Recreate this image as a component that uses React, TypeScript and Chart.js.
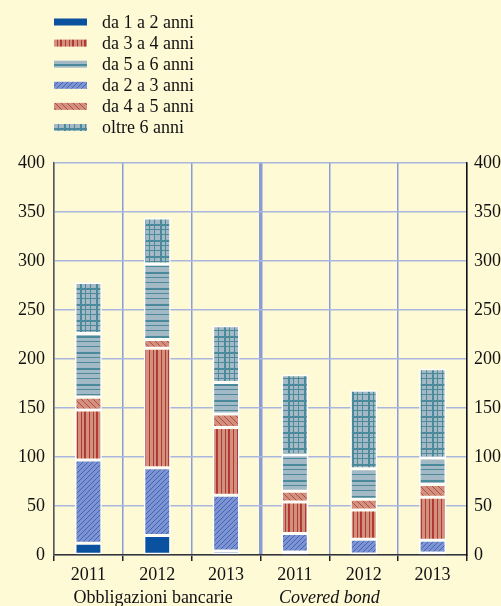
import { useEffect, useRef } from "react";
import { Chart, registerables } from "chart.js";
Chart.register(...registerables);

const categories = ["2011", "2012", "2013", "2011", "2012", "2013"];
const groupLabels = ["Obbligazioni bancarie", "Covered bond"];
const yMin = 0;
const yMax = 400;
const yStep = 50;

// stacked from bottom to top
const da1a2 = [12, 20, 4, 3, 1, 2];
const da2a3 = [85, 69, 57, 19, 15, 13];
const da3a4 = [51, 122, 69, 32, 30, 44];
const da4a5 = [13, 9, 14, 11, 11, 13];
const da5a6 = [65, 77, 32, 37, 31, 27];
const oltre6 = [52, 47, 58, 82, 80, 91];

const seriesNames = ["da 1 a 2 anni", "da 2 a 3 anni", "da 3 a 4 anni", "da 4 a 5 anni", "da 5 a 6 anni", "oltre 6 anni"];
const legendOrder = [0, 2, 4, 1, 3, 5];

const FONT = '"Liberation Serif", "Times New Roman", serif';
const FS = 18;
const BG = "#fffad6";

function makeTile(w: number, h: number, draw: (c: CanvasRenderingContext2D) => void) {
  const cv = document.createElement("canvas");
  cv.width = w;
  cv.height = h;
  const c = cv.getContext("2d")!;
  draw(c);
  return cv;
}

function makePatterns(ctx: CanvasRenderingContext2D) {
  const solid = "#0a52a0";
  const blueDiag = makeTile(5, 5, (c) => {
    c.fillStyle = "#7f93d2";
    c.fillRect(0, 0, 5, 5);
    c.fillStyle = "#3a68b6";
    for (let i = 0; i < 5; i++) c.fillRect(i, 4 - i, 1, 1);
  });
  const redVert = makeTile(12, 4, (c) => {
    c.fillStyle = "#d2907f";
    c.fillRect(0, 0, 12, 4);
    c.fillStyle = "#b23a32";
    c.fillRect(0, 0, 2, 4);
    c.fillRect(5, 0, 1, 4);
    c.fillRect(9, 0, 1, 4);
  });
  const redDiag = makeTile(6, 6, (c) => {
    c.fillStyle = "#d2907f";
    c.fillRect(0, 0, 6, 6);
    c.fillStyle = "#b44a40";
    for (let i = 0; i < 6; i++) c.fillRect(i, i, 1, 1);
  });
  const tealHoriz = makeTile(4, 16, (c) => {
    c.fillStyle = "#a3bac6";
    c.fillRect(0, 0, 4, 16);
    c.fillStyle = "#4a8a9a";
    c.fillRect(0, 0, 4, 2);
    c.fillRect(0, 5, 4, 1);
    c.fillRect(0, 10, 4, 1);
  });
  const tealGrid = makeTile(16, 16, (c) => {
    c.fillStyle = "#a3bac6";
    c.fillRect(0, 0, 16, 16);
    c.fillStyle = "#4a8a9a";
    c.fillRect(0, 0, 16, 2);
    c.fillRect(0, 5, 16, 1);
    c.fillRect(0, 10, 16, 1);
    c.fillRect(0, 0, 2, 16);
    c.fillRect(5, 0, 1, 16);
    c.fillRect(10, 0, 1, 16);
  });
  return [
    solid,
    ctx.createPattern(blueDiag, "repeat")!,
    ctx.createPattern(redVert, "repeat")!,
    ctx.createPattern(redDiag, "repeat")!,
    ctx.createPattern(tealHoriz, "repeat")!,
    ctx.createPattern(tealGrid, "repeat")!,
  ];
}

export default function App() {
  const ref = useRef<HTMLCanvasElement | null>(null);

  useEffect(() => {
    document.body.style.margin = "0";
    document.body.style.background = BG;
    const canvas = ref.current!;
    const ctx = canvas.getContext("2d")!;
    const fills = makePatterns(ctx);
    const values = [da1a2, da2a3, da3a4, da4a5, da5a6, oltre6];

    const decor = {
      id: "decor",
      beforeDraw(chart: any) {
        const c = chart.ctx;
        c.save();
        c.fillStyle = BG;
        c.fillRect(0, 0, chart.width, chart.height);
        c.restore();
      },
      afterDraw(chart: any) {
        const c = chart.ctx;
        c.save();
        // legend
        c.font = `${FS}px ${FONT}`;
        c.textBaseline = "middle";
        c.textAlign = "left";
        legendOrder.forEach((di, row) => {
          const y = 22 + row * 21.1;
          c.fillStyle = fills[di] as any;
          c.fillRect(54, y - 3.5, 33, 7);
          c.fillStyle = "#111";
          c.fillText(seriesNames[di], 102, y + 1);
        });
        // group labels
        const xs = chart.scales.x;
        c.textAlign = "center";
        c.fillStyle = "#111";
        c.font = `${FS}px ${FONT}`;
        c.fillText(groupLabels[0], xs.getPixelForValue(0.94), 598);
        c.font = `italic ${FS}px ${FONT}`;
        c.fillText(groupLabels[1], xs.getPixelForValue(3.5), 598);
        c.restore();
      },
    };

    const chart = new Chart(canvas, {
      type: "bar",
      data: {
        labels: categories,
        datasets: values.map((v, i) => ({
          label: seriesNames[i],
          data: v,
          backgroundColor: fills[i] as any,
          borderColor: "#ffffff",
          borderWidth: 1.5,
          borderSkipped: false,
          barPercentage: 0.39,
          categoryPercentage: 1,
        })),
      },
      options: {
        animation: false,
        responsive: false,
        maintainAspectRatio: false,
        layout: { padding: { top: 163, left: 0, right: 0, bottom: 0 } },
        plugins: { legend: { display: false }, tooltip: { enabled: false } },
        scales: {
          x: {
            stacked: true,
            offset: true,
            grid: {
              offset: true,
              color: "#8a9cd8",
              lineWidth: (ctx: any) => (ctx.index === 3 ? 3.5 : 1.5),
              tickColor: "#222",
              tickWidth: 1.5,
              tickLength: 6,
            },
            border: { display: true, color: "#333", width: 1.5 },
            ticks: { color: "#111", font: { family: FONT, size: FS }, padding: 3 },
            afterFit: (s: any) => {
              s.height = 51;
            },
          },
          y: {
            stacked: true,
            min: yMin,
            max: yMax,
            position: "left",
            grid: { color: "#a9b6de", lineWidth: 1.5, drawTicks: false },
            border: { display: true, color: "#555", width: 1.5 },
            ticks: { stepSize: yStep, color: "#111", font: { family: FONT, size: FS }, padding: 9 },
            afterFit: (s: any) => {
              s.width = 54;
            },
          },
          y2: {
            min: yMin,
            max: yMax,
            position: "right",
            grid: { display: false, drawTicks: false },
            border: { display: true, color: "#111", width: 1.5 },
            ticks: { stepSize: yStep, color: "#111", font: { family: FONT, size: FS }, padding: 7 },
            afterFit: (s: any) => {
              s.width = 34;
            },
          },
        },
      },
      plugins: [decor],
    });
    return () => chart.destroy();
  }, []);

  return <canvas ref={ref} width={501} height={606} style={{ display: "block" }} />;
}
